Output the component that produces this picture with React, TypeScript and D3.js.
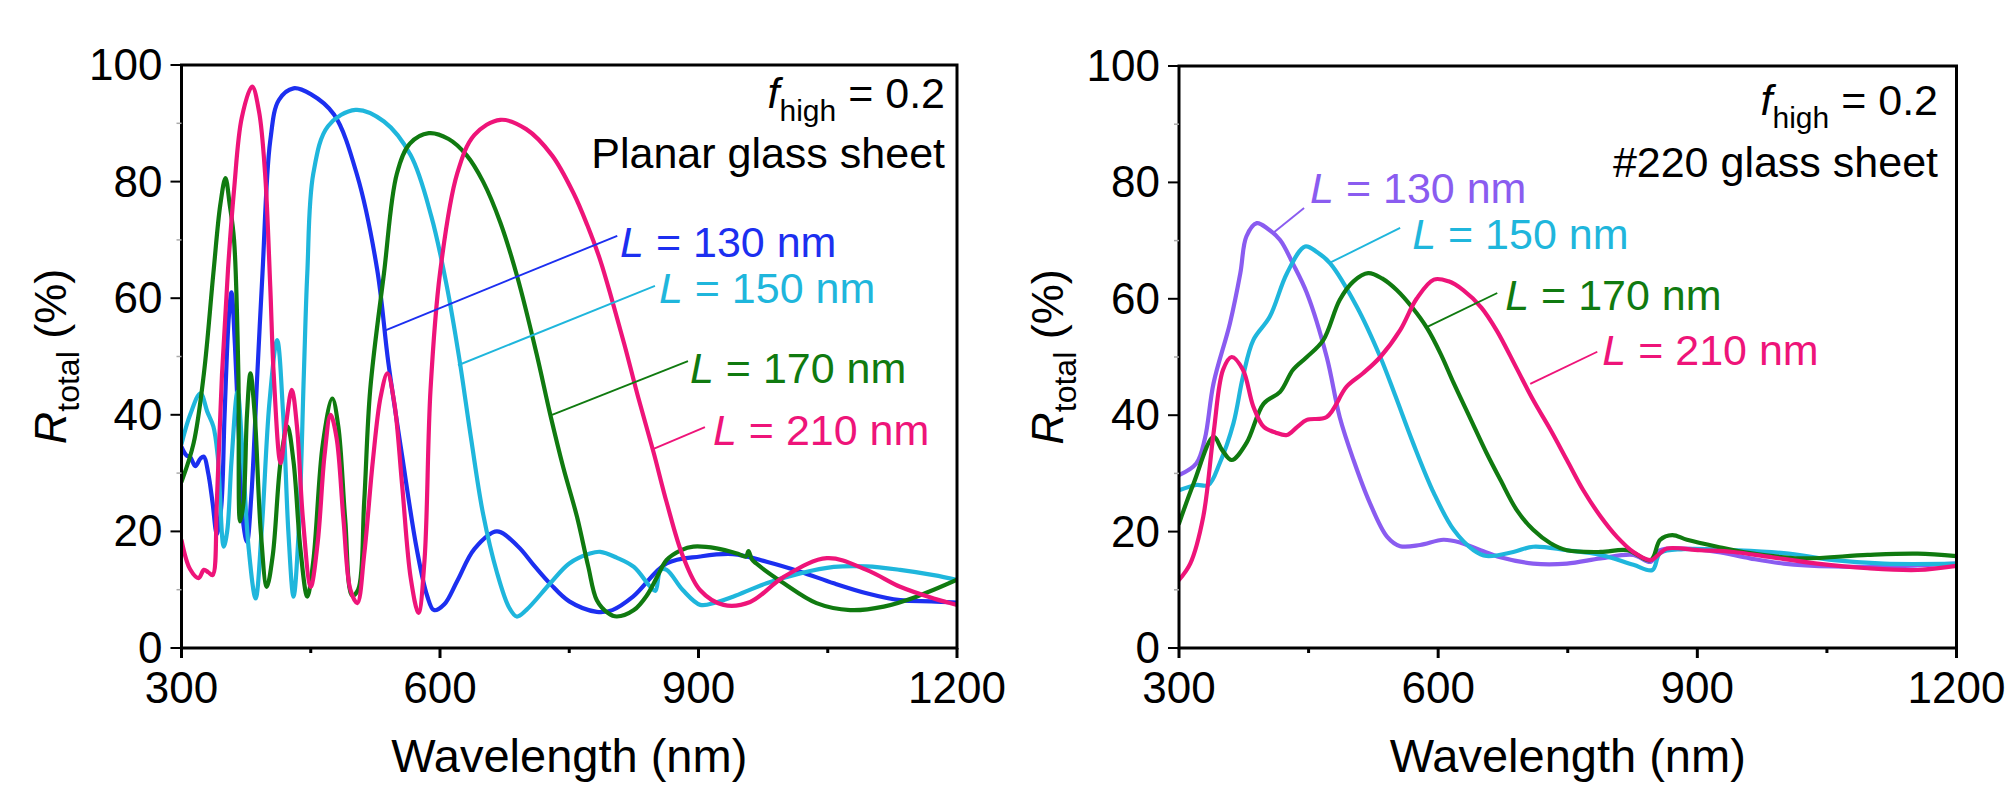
import React from "react";
import * as d3 from "d3";

// ---------- DATA (wavelength nm, R_total %) ----------
const xTicks = [300, 600, 900, 1200];
const xMinorTicks = [450, 750, 1050];
const yTicks = [0, 20, 40, 60, 80, 100];
const yMinorTicks = [10, 30, 50, 70, 90];

const seriesLabels = ["L = 130 nm", "L = 150 nm", "L = 170 nm", "L = 210 nm"];

// Planar glass sheet
const planar130: [number, number][] = [
  [300, 34.5], [306, 33], [310, 32.8], [316, 31.2], [322, 32.5], [326, 32.8], [331, 30], [336, 25],
  [341, 19.5], [346, 24], [350, 40], [355, 57], [358, 61], [362, 52], [367, 35], [372, 21],
  [376, 18.2], [381, 26], [388, 47], [394, 64.3], [403, 87], [413, 94], [430, 96], [450, 95],
  [477, 91.5], [504, 81], [527, 65], [540, 49], [556, 33], [573, 17], [585, 9], [593, 6.5],
  [605, 7.5], [620, 11.5], [640, 17], [666, 20], [690, 17.5], [710, 14], [728, 11], [750, 8],
  [782, 6.2], [800, 6.5], [824, 8.8], [863, 14.5], [902, 15.7], [940, 16.1], [979, 14.8],
  [1018, 13.1], [1057, 11.1], [1095, 9.4], [1134, 8.2], [1170, 8], [1200, 7.8],
];
const planar150: [number, number][] = [
  [300, 35], [310, 40], [322, 43.7], [330, 40.5], [337, 38], [342, 33], [349, 17.4], [353, 20],
  [358, 32], [365, 44], [371, 33], [378, 17], [386, 8.5], [393, 20], [402, 42], [411, 52.8],
  [418, 40], [424, 20], [430, 8.8], [436, 20], [442, 47], [446, 64.3], [453, 81.4], [470, 89.5],
  [502, 92.3], [535, 90.3], [566, 84.5], [590, 74], [608, 62], [622, 50], [636, 36], [650, 23],
  [666, 13], [680, 7], [689, 5.4], [700, 6.5], [728, 11.1], [750, 14.5], [774, 16.2], [786, 16.5],
  [805, 15.5], [825, 13.9], [844, 10.5], [850, 9.8], [856, 13.4], [863, 13.4], [882, 9.9],
  [902, 7.4], [920, 7.8], [940, 8.8], [979, 11.1], [1018, 12.8], [1057, 13.9], [1095, 14],
  [1134, 13.4], [1173, 12.5], [1200, 11.7],
];
const planar170: [number, number][] = [
  [300, 28.5], [314, 35.1], [326, 47.1], [337, 64.3], [345, 76], [351, 80.6], [356, 76], [361, 70],
  [366, 47], [368, 21.7], [372, 25], [376, 40], [380, 47.1], [385, 40], [392, 20], [399, 10.5],
  [406, 16], [415, 32], [423, 38], [430, 32], [438, 17], [446, 8.8], [453, 15], [464, 35],
  [475, 42.8], [482, 38], [490, 22], [498, 9], [505, 10], [512, 25], [519, 44.3], [535, 64.3],
  [550, 81.4], [565, 86.5], [587, 88.3], [610, 87.3], [631, 84.5], [650, 80], [670, 73],
  [690, 63.5], [712, 50.5], [728, 40], [743, 31], [759, 22.5], [772, 14], [782, 8.2], [795, 6],
  [805, 5.4], [825, 6.5], [840, 9], [852, 12.2], [863, 15.1], [880, 16.8], [894, 17.4],
  [921, 17.1], [945, 16.2], [955, 15.7], [958, 16.6], [962, 15.2], [967, 14.5], [999, 11.1],
  [1037, 7.7], [1076, 6.5], [1115, 7.1], [1153, 8.8], [1200, 11.7],
];
const planar210: [number, number][] = [
  [300, 18.5], [310, 13.5], [320, 12], [326, 13.4], [331, 13], [336, 12.5], [341, 25], [347, 47],
  [354, 65], [361, 78.6], [370, 91], [382, 96.3], [390, 92], [397, 81.4], [403, 62], [407, 47],
  [415, 31.7], [421, 38], [428, 44.3], [434, 38], [441, 22], [450, 10.5], [458, 18], [466, 33],
  [473, 40], [480, 36], [488, 22], [496, 10], [504, 7.7], [512, 16], [522, 32], [531, 43],
  [539, 47.1], [547, 42], [556, 28], [566, 12], [575, 6], [582, 15], [589, 44.3], [600, 64.3],
  [620, 81.4], [640, 88], [670, 90.6], [700, 89], [730, 84.5], [755, 78], [771, 72.5], [786, 66.5],
  [800, 59.5], [815, 51.5], [830, 43], [848, 33.5], [863, 25], [882, 15.7], [902, 9.9], [929, 7.4],
  [960, 7.9], [999, 12.2], [1049, 15.4], [1095, 13.4], [1134, 10.5], [1173, 8.5], [1200, 7.4],
];

// #220 glass sheet
const rough130: [number, number][] = [
  [300, 29.7], [320, 31.7], [330, 36], [340, 45.5], [359, 55.8], [371, 64.4], [378, 70.7],
  [390, 73], [403, 72], [417, 70.1], [432, 66], [448, 61], [471, 50], [486, 39.7], [502, 32.3],
  [521, 24.9], [541, 19.1], [556, 17.5], [579, 17.7], [606, 18.6], [626, 18.1], [649, 16.8],
  [672, 15.6], [710, 14.5], [749, 14.5], [788, 15.4], [826, 16], [846, 14.8], [857, 16.8],
  [884, 17.1], [923, 16.5], [961, 15.4], [1000, 14.5], [1058, 14], [1116, 14], [1200, 14.5],
];
const rough150: [number, number][] = [
  [300, 27.1], [320, 28], [334, 28], [347, 31.7], [363, 38.6], [374, 46.6], [386, 52.9],
  [405, 56.9], [425, 64.4], [446, 69], [460, 68], [475, 66.1], [506, 58.6], [533, 50],
  [550, 43.5], [571, 35.2], [595, 26.6], [618, 20.3], [641, 16.8], [656, 15.8], [687, 16.5],
  [710, 17.4], [749, 16.8], [788, 16], [826, 14.3], [848, 13.4], [857, 16.3], [884, 17],
  [942, 16.8], [1000, 16.3], [1058, 15.1], [1116, 14.5], [1200, 14.5],
];
const rough170: [number, number][] = [
  [300, 21.4], [317, 28.3], [340, 36.3], [350, 34], [361, 32.3], [378, 35.2], [398, 42],
  [417, 44], [432, 47.8], [448, 50], [467, 52.9], [486, 59.8], [502, 63], [519, 64.4],
  [535, 63.5], [552, 61.5], [570, 58.5], [587, 55], [603, 50.5], [618, 45.5], [637, 39.5],
  [656, 33.5], [672, 28.9], [691, 23.7], [710, 20.3], [730, 18], [749, 16.8], [788, 16.5],
  [819, 16.8], [846, 15.1], [857, 18.6], [871, 19.4], [888, 18.6], [923, 17.4], [961, 16.3],
  [1019, 15.4], [1097, 16], [1155, 16.2], [1200, 15.8],
];
const rough210: [number, number][] = [
  [300, 11.7], [313, 14.5], [328, 22.5], [340, 36.9], [351, 47.8], [361, 50], [374, 47.8],
  [386, 41.5], [398, 38], [412, 37], [425, 36.6], [437, 38], [448, 39.2], [471, 39.7],
  [494, 44.9], [513, 47.2], [533, 50], [556, 54.6], [575, 60], [595, 63.3], [612, 63],
  [629, 61.5], [650, 58.5], [668, 54.5], [690, 48.3], [710, 42.6], [730, 37.5], [749, 32.3],
  [768, 27.1], [788, 22.6], [807, 19.1], [826, 16.5], [846, 15.1], [857, 16.3], [865, 17.1],
  [903, 16.8], [942, 16.5], [981, 15.7], [1039, 14.5], [1097, 13.7], [1155, 13.4], [1200, 14.1],
];

// label leaders in data coordinates: [fromNm, fromR, toNm, toR], text anchor [nm, R]
const planarLeaders = [
  [536.6, 54.5, 805.7, 70.7], [620.9, 48.5, 849.5, 62.1], [730, 40, 887.8, 49.2], [847.1, 34.1, 907.5, 37.9],
];
const planarLabelPos = [[809, 67.1], [854.1, 59.2], [890.1, 45.5], [916.8, 34.8]];
const roughLeaders = [
  [408.9, 71.3, 444.8, 75.6], [474.9, 66.2, 556, 72.2], [585, 55, 668.4, 61], [706.6, 45.4, 784.2, 50.9],
];
const roughLabelPos = [[451.7, 76.5], [569.9, 68.6], [677.6, 58.1], [790, 48.6]];

const FONT = "'Liberation Sans', Arial, Helvetica, sans-serif";

type Series = { data: [number, number][]; color: string };

function Panel(props: {
  left: number; right: number; top: number; bottom: number;
  series: Series[]; leaders: number[][]; labelPos: number[][];
  sample: string; fBaseline: number; sBaseline: number; textRight: number;
}) {
  const { left, right, top, bottom, series, leaders, labelPos, sample } = props;
  const x = d3.scaleLinear().domain([300, 1200]).range([left, right]);
  const y = d3.scaleLinear().domain([0, 100]).range([bottom, top]);
  const line = d3
    .line<[number, number]>()
    .x((d) => x(d[0]))
    .y((d) => y(d[1]))
    .curve(d3.curveCatmullRom.alpha(0.5));
  const midY = (top + bottom) / 2;
  const midX = (left + right) / 2;
  return (
    <g fontFamily={FONT}>
      <defs>
        <clipPath id={"clip" + left}>
          <rect x={left} y={top} width={right - left} height={bottom - top} />
        </clipPath>
      </defs>
      <g clipPath={`url(#clip${left})`}>
        {series.map((s, i) => (
          <path key={i} d={line(s.data) || ""} fill="none" stroke={s.color} strokeWidth={4.2}
            strokeLinejoin="round" strokeLinecap="round" />
        ))}
      </g>
      {leaders.map((l, i) => (
        <line key={"l" + i} x1={x(l[0])} y1={y(l[1])} x2={x(l[2])} y2={y(l[3])}
          stroke={series[i].color} strokeWidth={1.9} />
      ))}
      {labelPos.map((p, i) => (
        <text key={"t" + i} x={x(p[0])} y={y(p[1])} fontSize={43} fill={series[i].color}>
          <tspan fontStyle="italic">L</tspan>
          {seriesLabels[i].slice(1)}
        </text>
      ))}
      <rect x={left} y={top} width={right - left} height={bottom - top} fill="none" stroke="#000" strokeWidth={3} />
      {xTicks.map((t) => (
        <g key={"xt" + t}>
          <line x1={x(t)} x2={x(t)} y1={bottom} y2={bottom + 10} stroke="#000" strokeWidth={3} />
          <text x={x(t)} y={bottom + 55} fontSize={44} textAnchor="middle" fill="#000">{t}</text>
        </g>
      ))}
      {xMinorTicks.map((t) => (
        <line key={"xm" + t} x1={x(t)} x2={x(t)} y1={bottom} y2={bottom + 5} stroke="#000" strokeWidth={3} />
      ))}
      {yTicks.map((t) => (
        <g key={"yt" + t}>
          <line x1={left - 11} x2={left} y1={y(t)} y2={y(t)} stroke="#000" strokeWidth={2} />
          <text x={left - 19} y={y(t) + 15} fontSize={44} textAnchor="end" fill="#000">{t}</text>
        </g>
      ))}
      {yMinorTicks.map((t) => (
        <line key={"ym" + t} x1={left - 5} x2={left} y1={y(t)} y2={y(t)} stroke="#aaa" strokeWidth={1.5} />
      ))}
      <text x={midX} y={bottom + 124} fontSize={47} textAnchor="middle" fill="#000">Wavelength (nm)</text>
      <text transform={`translate(${left - 116},${midY}) rotate(-90)`} fontSize={45} textAnchor="middle" fill="#000">
        <tspan fontStyle="italic">R</tspan>
        <tspan fontSize={32} dy={13}>total</tspan>
        <tspan dy={-13}> (%)</tspan>
      </text>
      <text x={props.textRight} y={props.fBaseline} fontSize={43} textAnchor="end" fill="#000">
        <tspan fontStyle="italic">f</tspan>
        <tspan fontSize={30} dy={13}>high</tspan>
        <tspan dy={-13}> = 0.2</tspan>
      </text>
      <text x={props.textRight} y={props.sBaseline} fontSize={43} textAnchor="end" fill="#000">{sample}</text>
    </g>
  );
}

export default function App() {
  const leftSeries: Series[] = [
    { data: planar130, color: "#1c2ff0" },
    { data: planar150, color: "#1fb6dc" },
    { data: planar170, color: "#107a10" },
    { data: planar210, color: "#ee1479" },
  ];
  const rightSeries: Series[] = [
    { data: rough130, color: "#8a5cf0" },
    { data: rough150, color: "#1fb6dc" },
    { data: rough170, color: "#107a10" },
    { data: rough210, color: "#ee1479" },
  ];
  return (
    <svg width={2005} height={785} style={{ position: "absolute", left: 0, top: 0, background: "#fff" }}>
      <rect x={0} y={0} width={2005} height={785} fill="#fff" />
      <Panel left={181.5} right={957} top={65} bottom={648} series={leftSeries}
        leaders={planarLeaders} labelPos={planarLabelPos} sample="Planar glass sheet"
        fBaseline={108} sBaseline={168} textRight={945} />
      <Panel left={1179} right={1956.5} top={66} bottom={648} series={rightSeries}
        leaders={roughLeaders} labelPos={roughLabelPos} sample="#220 glass sheet"
        fBaseline={115} sBaseline={177} textRight={1938} />
    </svg>
  );
}
